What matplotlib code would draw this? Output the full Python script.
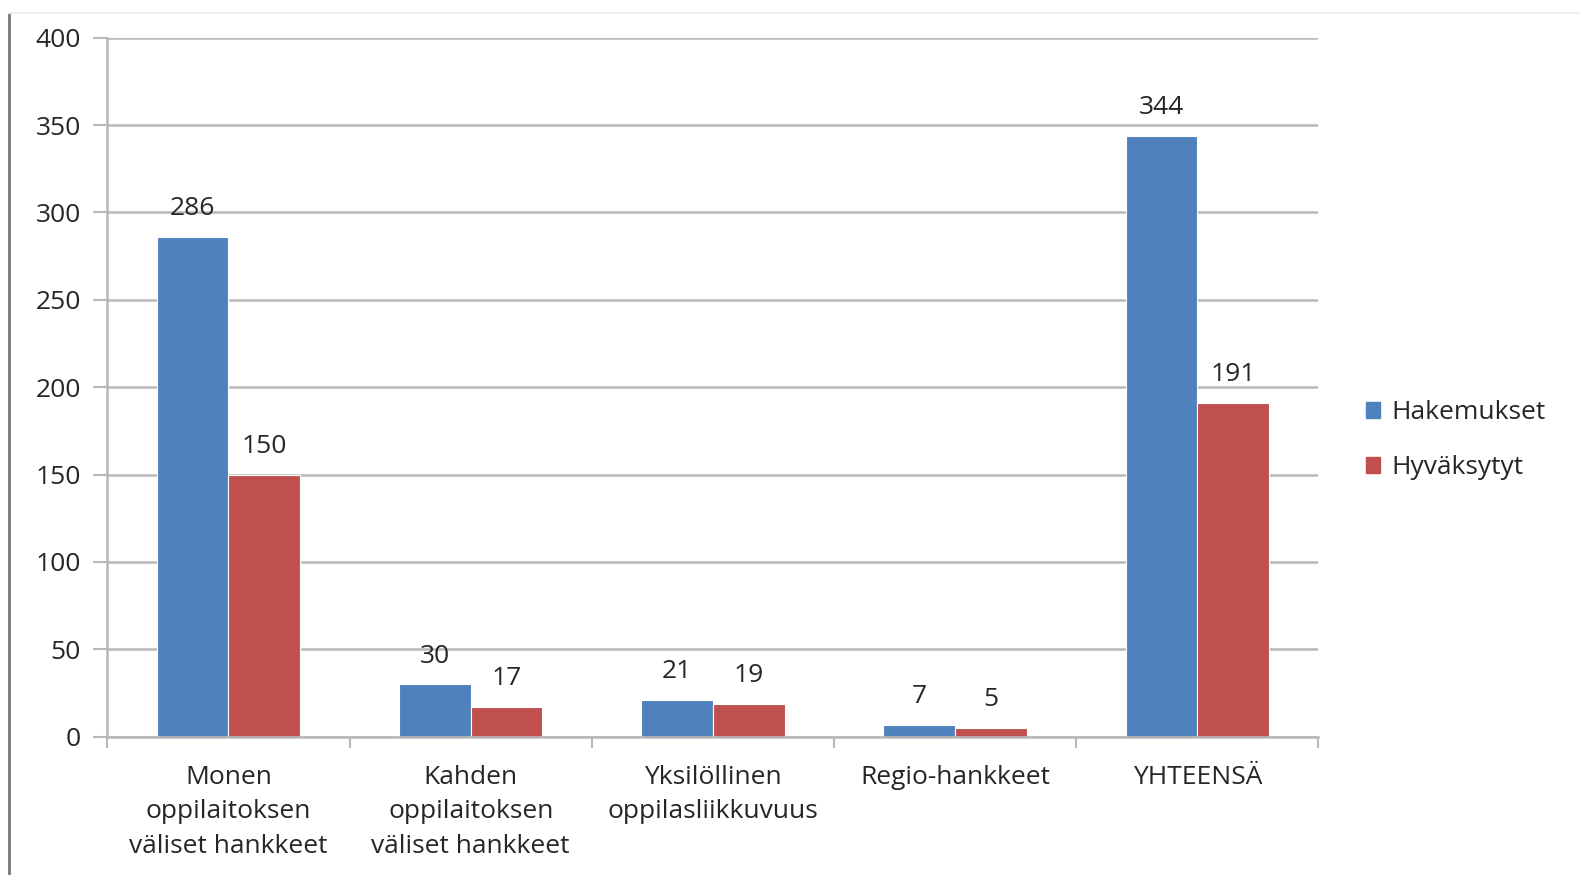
import matplotlib
matplotlib.use("Agg")
import matplotlib.pyplot as plt
import numpy as np
from matplotlib.lines import Line2D
from matplotlib.patches import Patch

plt.rcParams["font.family"] = ["Open Sans", "DejaVu Sans"]

categories = [
    "Monen\noppilaitoksen\nväliset hankkeet",
    "Kahden\noppilaitoksen\nväliset hankkeet",
    "Yksilöllinen\noppilasliikkuvuus",
    "Regio-hankkeet",
    "YHTEENSÄ",
]
hakemukset = [286, 30, 21, 7, 344]
hyvaksytyt = [150, 17, 19, 5, 191]
series_names = ["Hakemukset", "Hyväksytyt"]

BLUE = "#4F81BD"
RED = "#C0504D"
GRID = "#b8b8b8"
TEXT = "#262626"

fig = plt.figure(figsize=(15.79, 8.75), dpi=100)
ax = fig.add_axes([0.068, 0.158, 0.767, 0.799])

x = np.arange(len(categories))
w = 0.296
b1 = ax.bar(x - w / 2, hakemukset, w, color=BLUE, edgecolor="white", linewidth=0.8)
b2 = ax.bar(x + w / 2, hyvaksytyt, w, color=RED, edgecolor="white", linewidth=0.8)

for bars, vals in ((b1, hakemukset), (b2, hyvaksytyt)):
    for rect, v in zip(bars, vals):
        ax.text(rect.get_x() + rect.get_width() / 2, v + 9, str(v),
                ha="center", va="bottom", fontsize=19, color=TEXT)

ax.set_xlim(-0.5, len(categories) - 0.5)
ax.set_ylim(0, 400)
ax.set_yticks(range(0, 401, 50))
ax.yaxis.grid(True, color=GRID, linewidth=1.8)
ax.set_axisbelow(True)

ax.set_xticks(x)
ax.set_xticklabels(categories, fontsize=19, color=TEXT, linespacing=1.5)
ax.tick_params(axis="x", length=0, pad=20)
ax.set_xticks(np.arange(-0.5, len(categories)), minor=True)
ax.tick_params(axis="x", which="minor", length=8, color=GRID, width=1.5)
ax.tick_params(axis="y", labelsize=19, labelcolor=TEXT, length=10, color=GRID, width=1.5, pad=9)

for s in ("top", "right"):
    ax.spines[s].set_visible(False)
for s in ("left", "bottom"):
    ax.spines[s].set_color(GRID)
    ax.spines[s].set_linewidth(1.8)

handles = [Patch(color=BLUE), Patch(color=RED)]
fig.legend(handles, series_names, loc="center left", bbox_to_anchor=(0.85, 0.497),
           frameon=False, fontsize=19, handlelength=0.55, handleheight=0.55,
           handletextpad=0.4, labelspacing=1.15, labelcolor=TEXT)

# thin frame edges of the original screenshot
fig.add_artist(Line2D([0.006, 0.006], [0.0, 0.985], color="#777777", linewidth=2,
                      transform=fig.transFigure))
fig.add_artist(Line2D([0.006, 1.0], [0.985, 0.985], color="#eeeeee", linewidth=1.5,
                      transform=fig.transFigure))

fig.savefig("out.png", dpi=100)
